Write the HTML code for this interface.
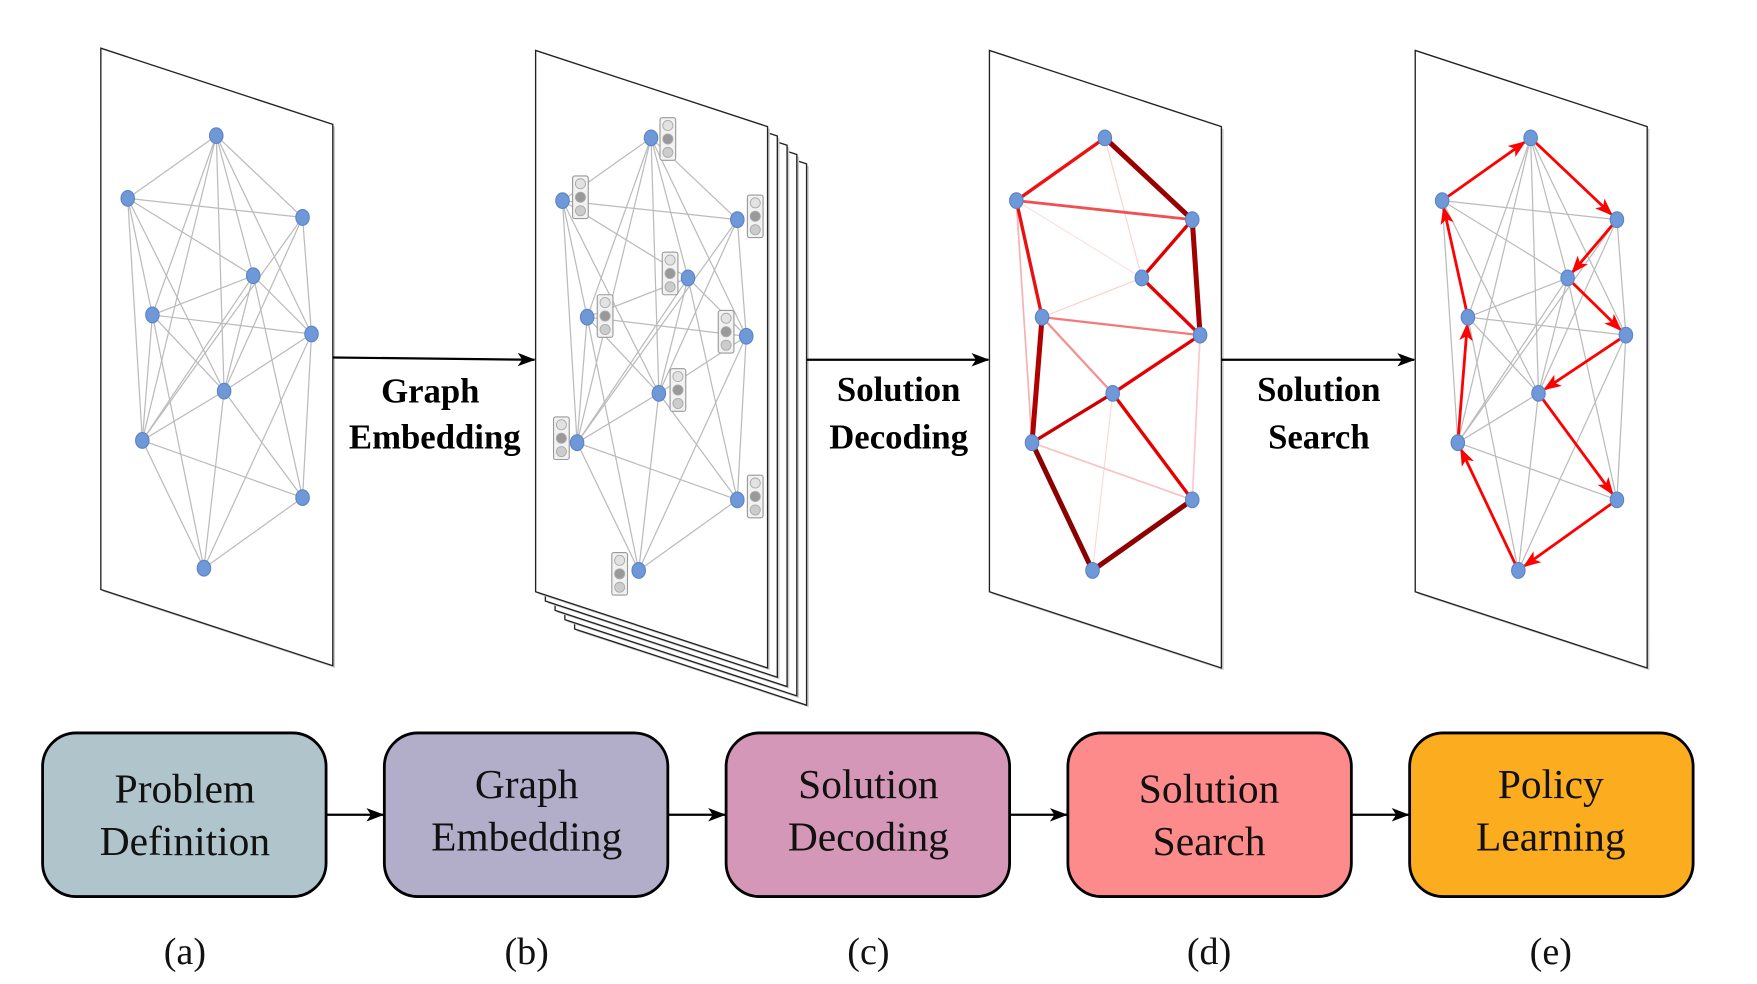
<!DOCTYPE html>
<html><head><meta charset="utf-8"><style>
html,body{margin:0;padding:0;background:#fff;}
svg{display:block;}
</style></head><body>
<svg id="s" width="1757" height="984" viewBox="0 0 1568 878" preserveAspectRatio="none" xmlns="http://www.w3.org/2000/svg">
<defs>
<marker id="ab" markerWidth="16" markerHeight="12" refX="15" refY="6" orient="auto" markerUnits="userSpaceOnUse"><path d="M0,0 L16,6 L0,12 L4,6 Z" fill="#000"/></marker>
<marker id="ar" markerWidth="16" markerHeight="12" refX="14" refY="6" orient="auto" markerUnits="userSpaceOnUse"><path d="M0,0 L16,6 L0,12 L4,6 Z" fill="#f00"/></marker>
</defs>
<g id="pages"></g>
<g id="graphs"></g>
<g stroke="#000" stroke-width="2" fill="none">
<line x1="297" y1="319" x2="477" y2="321" marker-end="url(#ab)"/>
<line x1="720" y1="321" x2="882" y2="321" marker-end="url(#ab)"/>
<line x1="1090" y1="321" x2="1262" y2="321" marker-end="url(#ab)"/>
<line x1="291" y1="727" x2="342" y2="727" marker-end="url(#ab)"/>
<line x1="596" y1="727" x2="647" y2="727" marker-end="url(#ab)"/>
<line x1="901" y1="727" x2="952" y2="727" marker-end="url(#ab)"/>
<line x1="1206" y1="727" x2="1257" y2="727" marker-end="url(#ab)"/>
</g>
<g font-family="Liberation Serif, serif" font-weight="bold" font-size="31" text-anchor="middle" fill="#000">
<text x="384" y="359">Graph</text><text x="388" y="400">Embedding</text>
<text x="802" y="358">Solution</text><text x="802" y="400">Decoding</text>
<text x="1177" y="358">Solution</text><text x="1177" y="400">Search</text>
</g>
<g stroke="#000" stroke-width="2.5">
<rect x="38" y="654" width="253" height="146" rx="30" fill="#b0c4cc"/>
<rect x="343" y="654" width="253" height="146" rx="30" fill="#b2aeca"/>
<rect x="648" y="654" width="253" height="146" rx="30" fill="#d597b8"/>
<rect x="953" y="654" width="253" height="146" rx="30" fill="#fe8b8b"/>
<rect x="1258" y="654" width="253" height="146" rx="30" fill="#fbad1f"/>
</g>
<g font-family="Liberation Serif, serif" font-size="37" text-anchor="middle" fill="#111">
<text x="165" y="716">Problem</text><text x="165" y="763">Definition</text>
<text x="470" y="712">Graph</text><text x="470" y="759">Embedding</text>
<text x="775" y="712">Solution</text><text x="775" y="759">Decoding</text>
<text x="1079" y="716">Solution</text><text x="1079" y="763">Search</text>
<text x="1384" y="712">Policy</text><text x="1384" y="759">Learning</text>
</g>
<g font-family="Liberation Serif, serif" font-size="34" text-anchor="middle" fill="#111">
<text x="165" y="860">(a)</text><text x="470" y="860">(b)</text><text x="775" y="860">(c)</text><text x="1079" y="860">(d)</text><text x="1384" y="860">(e)</text>
</g>
</svg>
<script>
var NS="http://www.w3.org/2000/svg";
function el(p,t,a){var e=document.createElementNS(NS,t);for(var k in a)e.setAttribute(k,a[k]);p.appendChild(e);return e;}
var P=document.getElementById('pages'),G=document.getElementById('graphs');
function page(x,y){el(P,'polygon',{points:(x+2)+','+(y+2)+' '+(x+209)+','+(y+70)+' '+(x+209)+','+(y+553)+' '+(x+2)+','+(y+485),fill:'#ccc'});
el(P,'polygon',{points:x+','+y+' '+(x+207)+','+(y+68)+' '+(x+207)+','+(y+551)+' '+x+','+(y+483),fill:'#fff',stroke:'#222','stroke-width':1.2});}
page(90,43);
for(var i=4;i>=1;i--)page(478+i*8.7,45+i*8.3);
page(478,45);page(883,45);page(1263,45);
var base=[[193,121],[114,177],[270,194],[226,246],[136,281],[278,298],[200,349],[127,393],[270,444],[182,507]];
var E=[[0,1],[0,2],[0,5],[0,6],[0,4],[0,7],[0,3],[1,2],[1,3],[1,6],[1,4],[1,7],[2,5],[2,6],[2,7],[3,4],[3,7],[3,6],[3,5],[3,8],[4,5],[4,6],[4,7],[4,9],[5,6],[5,8],[5,9],[6,7],[6,8],[6,9],[7,8],[7,9],[8,9]];
function nodes(dx,dy){return base.map(function(p){return [p[0]+dx,p[1]+dy];});}
function gray(N){E.forEach(function(e){el(G,'line',{x1:N[e[0]][0],y1:N[e[0]][1],x2:N[e[1]][0],y2:N[e[1]][1],stroke:'#bbb','stroke-width':1.1});});}
function dots(N){N.forEach(function(p){el(G,'ellipse',{cx:p[0],cy:p[1],rx:6,ry:7,fill:'#6f98d8',stroke:'#5b84c6','stroke-width':1});});}
var A=nodes(0,0);gray(A);dots(A);
var B=nodes(388,2);gray(B);
var tl=[[596,124],[518,176],[674,193],[598,244],[540,282],[648,296],[605,348],[501,391],[674,443],[553,512]];
tl.forEach(function(p){el(G,'rect',{x:p[0]-7,y:p[1]-19,width:14,height:38,rx:2,fill:'#f2f2f2',stroke:'#999','stroke-width':1});
[['#e2e2e2',-12],['#999',0],['#ccc',12]].forEach(function(c){el(G,'circle',{cx:p[0],cy:p[1]+c[1],r:4.5,fill:c[0],stroke:'#aaa','stroke-width':0.8});});});
dots(B);
var C=[[986,123],[907,179],[1064,196],[1019,248],[930,283],[1071,299],[993,351],[921,395],[1064,446],[975,509]];
var CE=[[1,3,'#fde0e0',1],[0,3,'#fcd0d0',1],[4,3,'#fcd0d0',1],[1,7,'#f8b0b0',1.5],[6,9,'#fdd8d8',1],[5,8,'#fcc8c8',1.5],[7,8,'#fcc0c0',1.5],[4,5,'#f57878',2],[4,6,'#f69090',2],[1,2,'#f05050',2.5],
[0,1,'#f01010',3],[1,4,'#e81010',3],[2,3,'#e00000',3],[3,5,'#e80000',3],[5,6,'#e80000',3],[6,7,'#cc0000',3],[6,8,'#e80000',3],
[0,2,'#990000',4.5],[2,5,'#a00000',4.5],[4,7,'#b00000',4.5],[7,9,'#8b0000',4.5],[9,8,'#900000',4.5]];
CE.forEach(function(e){el(G,'line',{x1:C[e[0]][0],y1:C[e[0]][1],x2:C[e[1]][0],y2:C[e[1]][1],stroke:e[2],'stroke-width':e[3]});});
dots(C);
var D=[[1366,123],[1287,179],[1443,196],[1399,248],[1310,283],[1451,299],[1373,351],[1301,395],[1443,446],[1355,509]];
gray(D);
var path=[1,0,2,3,5,6,8,9,7,4,1];
for(var i=0;i<path.length-1;i++){var a=D[path[i]],b=D[path[i+1]];var dx=b[0]-a[0],dy=b[1]-a[1],L=Math.sqrt(dx*dx+dy*dy);
el(G,'line',{x1:a[0],y1:a[1],x2:b[0]-dx/L*7,y2:b[1]-dy/L*7,stroke:'#f00','stroke-width':2.5,'marker-end':'url(#ar)'});}
dots(D);
</script>
</body></html>
